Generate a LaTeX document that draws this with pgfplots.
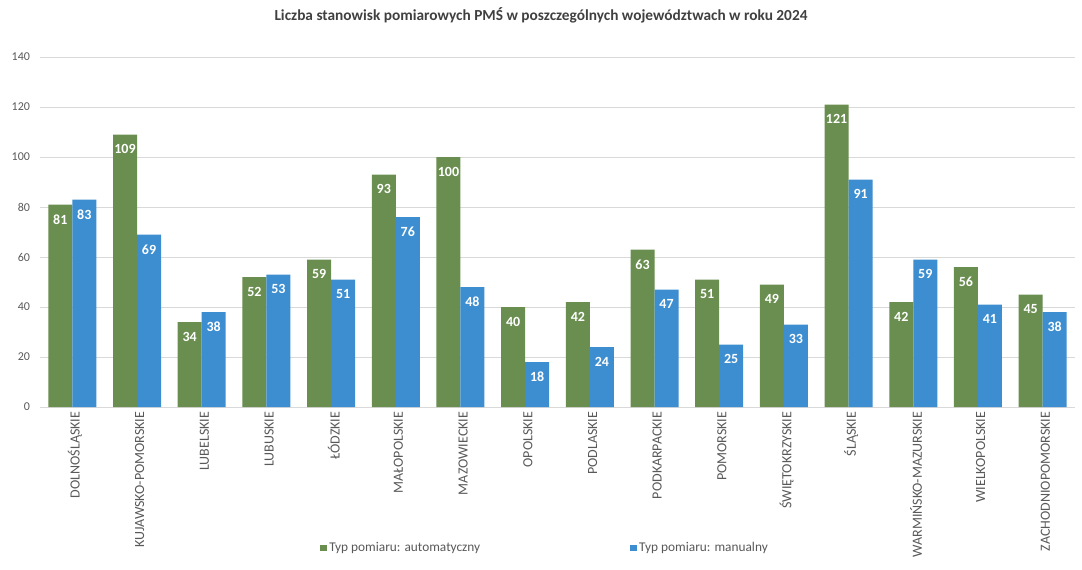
\documentclass[border=0pt]{standalone}
\usepackage{pgfplots}
\pgfplotsset{compat=1.18}
\usepackage{fontspec}
\setmainfont{Carlito}
\definecolor{autom}{RGB}{106,142,79}
\definecolor{manual}{RGB}{61,142,208}
\definecolor{txtgray}{HTML}{595959}
\definecolor{ttlgray}{HTML}{404040}
\definecolor{gridgray}{HTML}{D9D9D9}

\begin{document}
\begin{tikzpicture}
\useasboundingbox (0,0) rectangle (811.5pt,426.75pt);
\node[font=\bfseries\fontsize{11.5}{13}\selectfont, text=ttlgray] at (405.75pt,415.5pt)
    {Liczba stanowisk pomiarowych PMŚ w poszczególnych województwach w roku 2024};
\begin{axis}[
    at={(30pt,121.5pt)}, anchor=south west,
    scale only axis,
    width=776.25pt, height=262.5pt,
    ybar=0pt, bar width=18pt,
    xmin=-0.5, xmax=15.5,
    ymin=0, ymax=140,
    ytick={0,20,...,140},
    xtick={0,...,15},
    xticklabels={DOLNOŚLĄSKIE,KUJAWSKO-POMORSKIE,LUBELSKIE,LUBUSKIE,ŁÓDZKIE,MAŁOPOLSKIE,MAZOWIECKIE,OPOLSKIE,PODLASKIE,PODKARPACKIE,POMORSKIE,ŚWIĘTOKRZYSKIE,ŚLĄSKIE,WARMIŃSKO-MAZURSKIE,WIELKOPOLSKIE,ZACHODNIOPOMORSKIE},
    xticklabel style={rotate=90, anchor=east, font=\fontsize{10.5}{11}\selectfont, text=txtgray, yshift=-2pt},
    yticklabel style={font=\fontsize{9}{10}\selectfont, text=txtgray, xshift=-4pt},
    /pgf/number format/assume math mode=true,
    major tick length=0pt,
    tick style={draw=none},
    axis line style={draw=none},
    ymajorgrids,
    grid style={gridgray, line width=0.75pt},
    nodes near coords,
    every node near coord/.append style={anchor=north, yshift=-4pt, text=white,
        font=\bfseries\fontsize{10.5}{11}\selectfont},
    legend columns=2,
    legend style={at={(rel axis cs:0.488,0)}, yshift=-105.75pt, anchor=center,
        draw=none, font=\fontsize{10}{11}\selectfont, text=txtgray,
        /tikz/every even column/.append style={column sep=110pt}},
    legend image code/.code={\fill[#1] (0pt,-2.6pt) rectangle (5.2pt,2.6pt);},
    clip=false,
]
\addplot[fill=autom, draw=none] coordinates {
    (0,81) (1,109) (2,34) (3,52) (4,59) (5,93) (6,100) (7,40)
    (8,42) (9,63) (10,51) (11,49) (12,121) (13,42) (14,56) (15,45)};
\addplot[fill=manual, draw=none] coordinates {
    (0,83) (1,69) (2,38) (3,53) (4,51) (5,76) (6,48) (7,18)
    (8,24) (9,47) (10,25) (11,33) (12,91) (13,59) (14,41) (15,38)};
\legend{Typ pomiaru: automatyczny, Typ pomiaru: manualny}
\end{axis}
\end{tikzpicture}
\end{document}
